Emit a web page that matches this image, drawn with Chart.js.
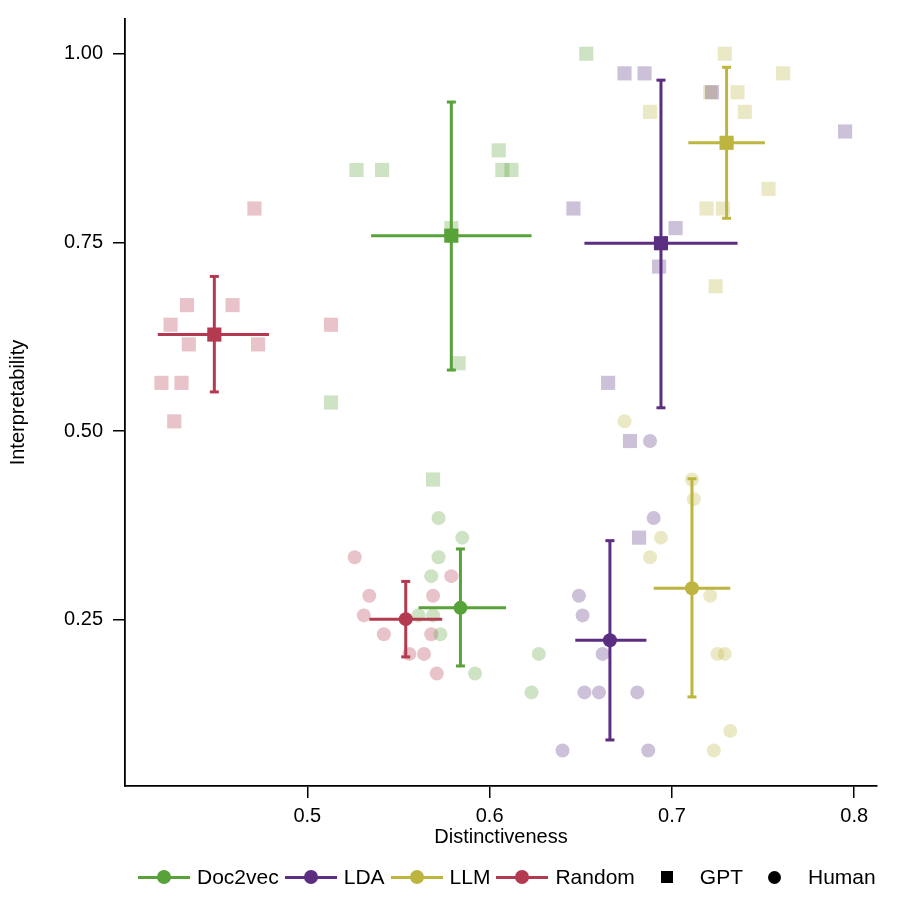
<!DOCTYPE html>
<html>
<head>
<meta charset="utf-8">
<title>Distinctiveness vs Interpretability</title>
<script src="https://cdn.jsdelivr.net/npm/chart.js@4.4.1/dist/chart.umd.min.js"></script>
<style>
    html, body { margin: 0; padding: 0; background: #fff; }
    #wrap   { position: relative; width: 897px; height: 897px; overflow: hidden; }
    #chart  { position: absolute; left: 0; top: 0; }
    #legend {
        position: absolute; left: 138px; top: 867px; height: 20px;
        display: flex; align-items: center; white-space: nowrap;
        font: 21px "Liberation Sans", Arial, sans-serif; color: #000;
    }
    .item      { display: flex; align-items: center; margin-right: 6px; }
    .sym       { position: relative; width: 52px; height: 20px; margin-right: 7px; }
    .sym .ln   { position: absolute; left: 0; right: 0; top: 8.5px; height: 3px; }
    .sym .dot  { position: absolute; left: 19px; top: 3px; width: 14px; height: 14px; border-radius: 50%; }
    .sym .sq   { position: absolute; left: 20px; top: 4px; width: 12px; height: 12px; background: #000; }
</style>
</head>
<body>
<div id="wrap">
    <canvas id="chart" width="897" height="897"></canvas>
    <div id="legend"></div>
</div>
<script>
/* ── Distinctiveness vs Interpretability, per topic method ── */

const FONT = "'Liberation Sans', Arial, Helvetica, sans-serif";

// ── Categories & colours ───────────────────────────────────
const methods      = ["Doc2vec", "LDA", "LLM", "Random"];
const methodColors = ["#58A23A", "#5B2E81", "#BDB53F", "#B33A50"];
const sources      = ["GPT", "Human"];

// ── Tick labels ────────────────────────────────────────────
const xTicks = [0.5, 0.6, 0.7, 0.8];
const yTicks = [0.25, 0.50, 0.75, 1.00];

// ── GPT ratings (squares) ──────────────────────────────────
const gptDoc2vecX = [0.527, 0.541, 0.605, 0.607, 0.612, 0.579, 0.583, 0.513, 0.653, 0.569];
const gptDoc2vecY = [0.846, 0.846, 0.872, 0.846, 0.846, 0.769, 0.590, 0.538, 1.000, 0.436];
const gptLdaX     = [0.674, 0.685, 0.722, 0.795, 0.646, 0.702, 0.693, 0.665, 0.677, 0.682];
const gptLdaY     = [0.974, 0.974, 0.949, 0.897, 0.795, 0.769, 0.718, 0.564, 0.487, 0.359];
const gptLlmX     = [0.729, 0.761, 0.721, 0.736, 0.688, 0.740, 0.753, 0.719, 0.728, 0.724];
const gptLlmY     = [1.000, 0.974, 0.949, 0.949, 0.923, 0.923, 0.821, 0.795, 0.795, 0.692];
const gptRandomX  = [0.471, 0.434, 0.459, 0.425, 0.435, 0.473, 0.420, 0.431, 0.427, 0.513];
const gptRandomY  = [0.795, 0.667, 0.667, 0.641, 0.615, 0.615, 0.564, 0.564, 0.513, 0.641];

// ── Human ratings (circles) ────────────────────────────────
const humanDoc2vecX = [0.572, 0.585, 0.572, 0.568, 0.561, 0.569, 0.573, 0.592, 0.627, 0.623];
const humanDoc2vecY = [0.385, 0.359, 0.333, 0.308, 0.256, 0.256, 0.231, 0.179, 0.205, 0.154];
const humanLdaX     = [0.690, 0.649, 0.651, 0.662, 0.652, 0.660, 0.681, 0.640, 0.687, 0.688];
const humanLdaY     = [0.385, 0.282, 0.256, 0.205, 0.154, 0.154, 0.154, 0.077, 0.077, 0.487];
const humanLlmX     = [0.674, 0.711, 0.712, 0.694, 0.688, 0.721, 0.725, 0.729, 0.732, 0.723];
const humanLlmY     = [0.513, 0.436, 0.410, 0.359, 0.333, 0.282, 0.205, 0.205, 0.103, 0.077];
const humanRandomX  = [0.526, 0.579, 0.534, 0.569, 0.531, 0.542, 0.568, 0.556, 0.564, 0.571];
const humanRandomY  = [0.333, 0.308, 0.282, 0.282, 0.256, 0.231, 0.231, 0.205, 0.205, 0.179];

// ── Means and error bars (order = methods) ─────────────────
const gptMeanX   = [0.579, 0.694, 0.730, 0.449];
const gptMeanY   = [0.759, 0.749, 0.882, 0.628];
const gptXLow    = [0.535, 0.652, 0.709, 0.418];
const gptXHigh   = [0.623, 0.736, 0.751, 0.479];
const gptYLow    = [0.581, 0.531, 0.782, 0.552];
const gptYHigh   = [0.936, 0.965, 0.982, 0.705];

const humanMeanX = [0.584, 0.666, 0.711, 0.554];
const humanMeanY = [0.266, 0.223, 0.292, 0.251];
const humanXLow  = [0.561, 0.647, 0.690, 0.534];
const humanXHigh = [0.609, 0.686, 0.732, 0.574];
const humanYLow  = [0.189, 0.091, 0.148, 0.201];
const humanYHigh = [0.344, 0.355, 0.437, 0.301];

// ── Grouping ───────────────────────────────────────────────
const gptX   = [gptDoc2vecX, gptLdaX, gptLlmX, gptRandomX];
const gptY   = [gptDoc2vecY, gptLdaY, gptLlmY, gptRandomY];
const humanX = [humanDoc2vecX, humanLdaX, humanLlmX, humanRandomX];
const humanY = [humanDoc2vecY, humanLdaY, humanLlmY, humanRandomY];

function fade(hex, a) {
    const n = parseInt(hex.slice(1), 16);
    return `rgba(${(n >> 16) & 255}, ${(n >> 8) & 255}, ${n & 255}, ${a})`;
}

function pairs(xs, ys) {
    return xs.map((x, i) => ({ x: x, y: ys[i] }));
}

// ── Datasets ───────────────────────────────────────────────
const datasets = [];
const styleFor = { GPT: { style: "rect", r: 10 }, Human: { style: "circle", r: 7 } };

methods.forEach((m, i) => {
    const col = methodColors[i];
    const groups = {
        GPT:   { xs: gptX[i], ys: gptY[i], mx: gptMeanX[i], my: gptMeanY[i],
                 xl: gptXLow[i], xh: gptXHigh[i], yl: gptYLow[i], yh: gptYHigh[i] },
        Human: { xs: humanX[i], ys: humanY[i], mx: humanMeanX[i], my: humanMeanY[i],
                 xl: humanXLow[i], xh: humanXHigh[i], yl: humanYLow[i], yh: humanYHigh[i] },
    };

    sources.forEach((src) => {
        const g = groups[src];
        const st = styleFor[src];

        // individual topics, faded
        datasets.push({
            type: "scatter",
            label: `${m} ${src}`,
            data: pairs(g.xs, g.ys),
            pointStyle: st.style,
            pointRadius: st.r,
            backgroundColor: fade(col, 0.3),
            borderWidth: 0,
            order: 3,
        });

        // vertical error bar with caps
        datasets.push({
            type: "line",
            label: `${m} ${src} y-error`,
            data: [{ x: g.mx, y: g.yl }, { x: g.mx, y: g.yh }],
            showLine: true,
            borderColor: col,
            borderWidth: 3,
            pointStyle: "line",
            pointRadius: 4.5,
            pointBorderWidth: 3,
            pointBorderColor: col,
            order: 1,
        });

        // horizontal error bar
        datasets.push({
            type: "line",
            label: `${m} ${src} x-error`,
            data: [{ x: g.xl, y: g.my }, { x: g.xh, y: g.my }],
            showLine: true,
            borderColor: col,
            borderWidth: 3,
            pointRadius: 0,
            order: 1,
        });

        // mean marker
        datasets.push({
            type: "scatter",
            label: `${m} ${src} mean`,
            data: [{ x: g.mx, y: g.my }],
            pointStyle: st.style,
            pointRadius: st.r,
            backgroundColor: col,
            borderWidth: 0,
            order: 0,
        });
    });
});

// ── Chart ──────────────────────────────────────────────────
const axisFont = { family: FONT, size: 20 };

// keep the plot box where the reference has it (no label overhang padding)
function noOverhang(s) {
    s.paddingTop = 0;
    s.paddingBottom = 0;
    s.paddingLeft = 0;
    s.paddingRight = 0;
}

new Chart(document.getElementById("chart"), {
    type: "scatter",
    data: { datasets: datasets },
    options: {
        responsive: false,
        animation: false,
        events: [],
        layout: { padding: { left: 0, right: 20, top: 19, bottom: 41 } },
        plugins: {
            legend: { display: false },
            tooltip: { enabled: false },
        },
        scales: {
            x: {
                type: "linear",
                min: 0.40,
                max: 0.8125,
                afterFit: (s) => { s.height = 70; noOverhang(s); },
                afterBuildTicks: (s) => { s.ticks = xTicks.map(v => ({ value: v })); },
                border: { display: true, color: "#000", width: 1.8 },
                grid: { drawOnChartArea: false, drawTicks: true, tickLength: 12, color: "#000", lineWidth: 1.5 },
                ticks: {
                    color: "#000", font: axisFont, padding: 6, maxRotation: 0,
                    callback: (v) => Number(v).toFixed(1),
                },
                title: {
                    display: true, text: "Distinctiveness", color: "#000",
                    font: axisFont, padding: { top: 0, bottom: 7 },
                },
            },
            y: {
                type: "linear",
                min: 0.030,
                max: 1.046,
                afterFit: (s) => { s.width = 125; noOverhang(s); },
                afterBuildTicks: (s) => { s.ticks = yTicks.map(v => ({ value: v })); },
                border: { display: true, color: "#000", width: 1.8 },
                grid: { drawOnChartArea: false, drawTicks: true, tickLength: 12, color: "#000", lineWidth: 1.5 },
                ticks: {
                    color: "#000", font: axisFont, padding: 10,
                    callback: (v) => Number(v).toFixed(2),
                },
                title: {
                    display: true, text: "Interpretability", color: "#000",
                    font: axisFont, padding: { top: 6, bottom: 0 },
                },
            },
        },
    },
});

// ── Legend (methods + rater shapes) ────────────────────────
const legendEl = document.getElementById("legend");
methods.forEach((m, i) => {
    const col = methodColors[i];
    legendEl.insertAdjacentHTML("beforeend",
        `<span class="item"><span class="sym">` +
        `<i class="ln" style="background:${col}"></i><i class="dot" style="background:${col}"></i>` +
        `</span>${m}</span>`);
});
sources.forEach((src) => {
    const mark = src === "GPT" ? `<i class="sq"></i>` : `<i class="dot" style="background:#000;width:13px;height:13px;left:19.5px;top:3.5px"></i>`;
    legendEl.insertAdjacentHTML("beforeend",
        `<span class="item"><span class="sym">${mark}</span>${src}</span>`);
});
</script>
</body>
</html>
